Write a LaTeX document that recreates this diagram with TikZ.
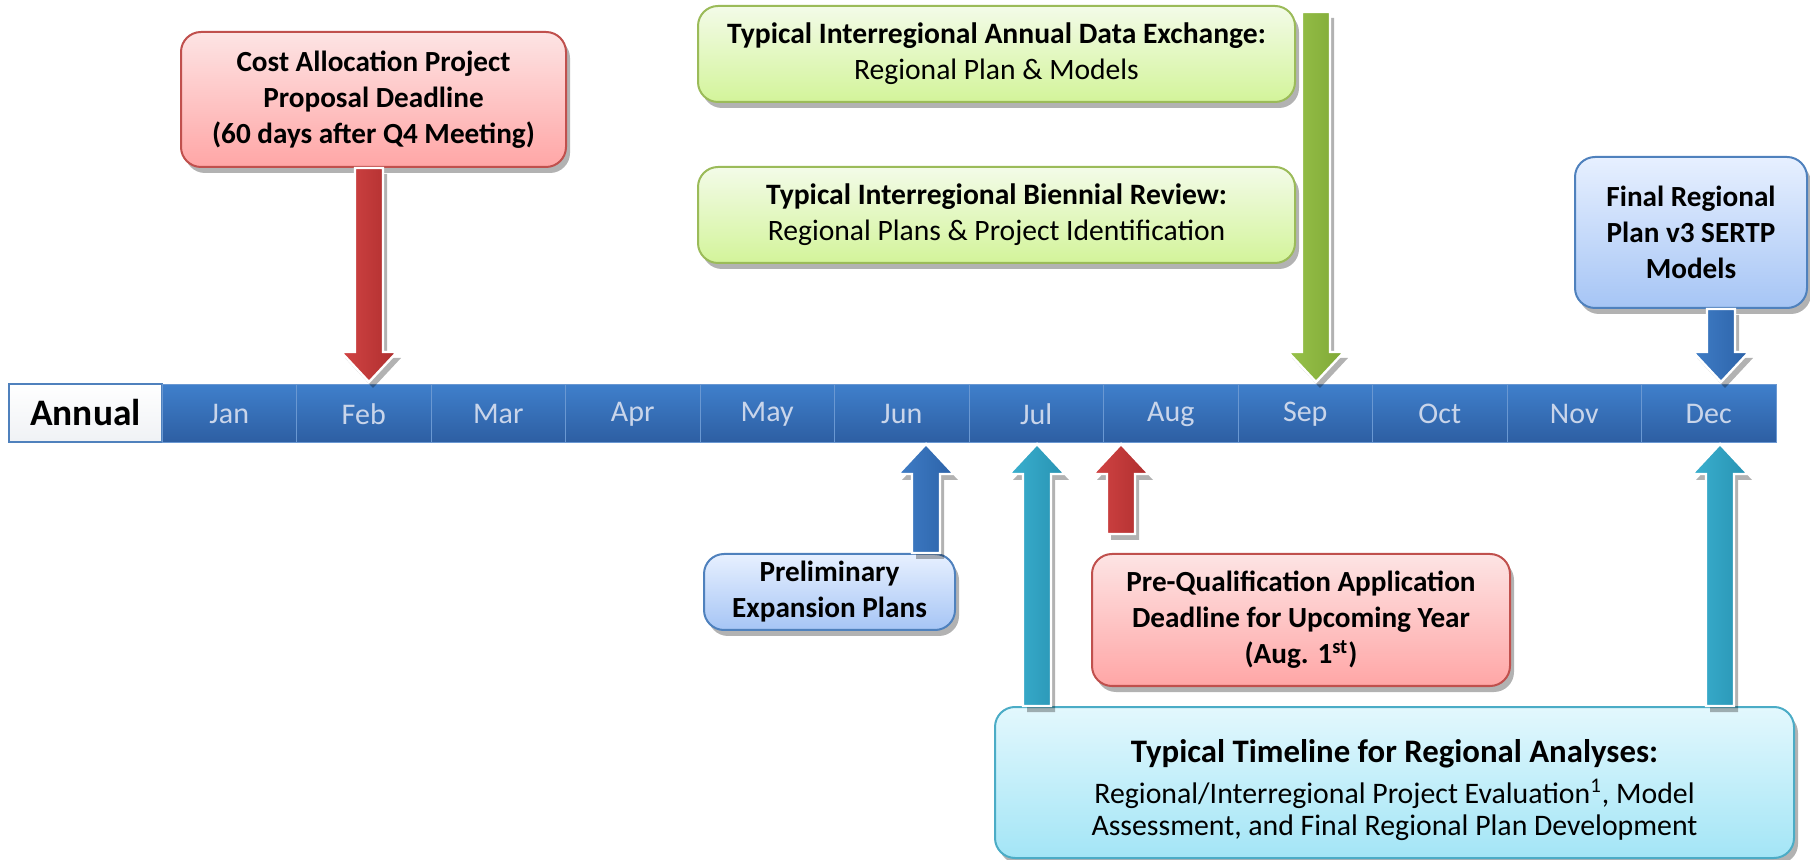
\documentclass[tikz,border=0pt]{standalone}
\usepackage{fontspec}
\setmainfont{Carlito}
\usetikzlibrary{shadows,calc}
\definecolor{barT}{HTML}{3F7FCB}
\definecolor{barB}{HTML}{2D5EA2}
\definecolor{barSep}{HTML}{6A98D2}
\definecolor{monthTxt}{HTML}{C9D5EA}
\definecolor{redT}{HTML}{FDE4E4}
\definecolor{redBt}{HTML}{FFA6A6}
\definecolor{redD}{HTML}{C0504D}
\definecolor{redAL}{HTML}{D24444}
\definecolor{redAR}{HTML}{AE2E2E}
\definecolor{grnT}{HTML}{F3FBE8}
\definecolor{grnBt}{HTML}{D3F49A}
\definecolor{grnD}{HTML}{9BBB59}
\definecolor{grnAL}{HTML}{98C24A}
\definecolor{grnAR}{HTML}{7FA836}
\definecolor{bluT}{HTML}{E7F0FF}
\definecolor{bluBt}{HTML}{A6C5F5}
\definecolor{bluD}{HTML}{4F81BD}
\definecolor{bluAL}{HTML}{3F7DC6}
\definecolor{bluAR}{HTML}{2C62A8}
\definecolor{tealT}{HTML}{E3F8FD}
\definecolor{tealBt}{HTML}{A3E5F6}
\definecolor{tealD}{HTML}{4BACC6}
\definecolor{tealAL}{HTML}{3AB0CF}
\definecolor{tealAR}{HTML}{2892B2}
\newcommand{\tlDown}[3]{%
  \path[#3] let \p1=(#1), \p2=(#2) in
    (\x2-7pt,\y1) -- (\x2-7pt,\y2+15pt) -- (\x2-14pt,\y2+15pt) -- (\x2,\y2)
    -- (\x2+14pt,\y2+15pt) -- (\x2+7pt,\y2+15pt) -- (\x2+7pt,\y1) -- cycle;}
\newcommand{\tlUp}[3]{%
  \path[#3] let \p1=(#1), \p2=(#2) in
    (\x2-7pt,\y1) -- (\x2-7pt,\y2-15pt) -- (\x2-14pt,\y2-15pt) -- (\x2,\y2)
    -- (\x2+14pt,\y2-15pt) -- (\x2+7pt,\y2-15pt) -- (\x2+7pt,\y1) -- cycle;}
\tikzset{
  shad/.style={drop shadow={shadow xshift=2pt,shadow yshift=-3pt,opacity=0.3,fill=black}},
  box/.style={rounded corners=10pt, line width=1pt, align=center, inner sep=0pt, shad,
    font=\fontsize{14.8}{18}\selectfont},
  bbox/.style={box, font=\fontsize{14.6}{18}\selectfont\bfseries},
  redbox/.style={draw=redD, top color=redT, bottom color=redBt},
  grnbox/.style={draw=grnD, top color=grnT, bottom color=grnBt},
  blubox/.style={draw=bluD, top color=bluT, bottom color=bluBt},
  tealbox/.style={draw=tealD, top color=tealT, bottom color=tealBt},
  month/.style={minimum width=67.25pt, minimum height=29pt, inner sep=0pt, draw=barSep,
    line width=0.5pt, top color=barT, bottom color=barB, text=monthTxt,
    font=\fontsize{15}{18}\selectfont},
  annual/.style={minimum width=76.5pt, minimum height=29pt, inner sep=0pt, draw=bluD,
    line width=0.8pt, top color=white, bottom color=black!4!bluT!80!gray!30,
    font=\fontsize{18.7}{22}\selectfont\bfseries},
  barrow/.style={draw=white, line width=1.2pt, shad},
  redarrow/.style={barrow, left color=redAL, right color=redAR},
  grnarrow/.style={barrow, left color=grnAL, right color=grnAR},
  bluarrow/.style={barrow, left color=bluAL, right color=bluAR},
  tealarrow/.style={barrow, left color=tealAL, right color=tealAR},
}
\begin{document}
\begin{tikzpicture}[x=0.5pt,y=-0.5pt]
\useasboundingbox (0,0) rectangle (1810,860);
% timeline
\node[annual] (annual) at (85.5,413) {Annual};
\foreach \m [count=\i] in {Jan,Feb,Mar,Apr,May,Jun,Jul,Aug,Sep,Oct,Nov,Dec}
  \node[month] (m\i) at ({162+134.5*(\i-0.5)},414) {\m};
% boxes
\node[bbox,redbox,minimum width=192.5pt,minimum height=67.5pt] (cost) at (373.5,99.5)
  {Cost Allocation Project\\Proposal Deadline\\(60 days after Q4 Meeting)};
\node[box,grnbox,minimum width=298.5pt,minimum height=48pt] (gx) at (996.5,54)
  {\textbf{Typical Interregional Annual Data Exchange:}\\Regional Plan \& Models};
\node[box,grnbox,minimum width=298.5pt,minimum height=48pt] (gb) at (996.5,215)
  {\textbf{Typical Interregional Biennial Review:}\\Regional Plans \& Project Identification};
\node[bbox,blubox,minimum width=116pt,minimum height=75.5pt] (final) at (1691,232.5)
  {Final Regional\\Plan v3 SERTP\\Models};
\node[bbox,blubox,minimum width=125.5pt,minimum height=38pt] (prelim) at (829.5,592)
  {Preliminary\\Expansion Plans};
\node[bbox,redbox,minimum width=209pt,minimum height=66pt] (prequal) at (1301,620)
  {Pre-Qualification Application\\Deadline for Upcoming Year\\(Aug. 1\textsuperscript{st})};
\node[box,tealbox,minimum width=399.5pt,minimum height=75.5pt,font=\fontsize{14.9}{16.2}\selectfont] (teal) at (1394.5,782.5)
  {\rule{0pt}{19pt}{\fontsize{16.4}{19}\selectfont\bfseries Typical Timeline for Regional Analyses:}\\[4.5pt]
   Regional/Interregional Project Evaluation\textsuperscript{1}, Model\\
   Assessment, and Final Regional Plan Development};
% arrow end points
\coordinate (tipFeb) at (369,382);
\coordinate (tipSep) at (1316,382);
\coordinate (topSep) at (1316,12);
\coordinate (tipDec) at (1721,382);
\coordinate (tipJun) at (926,444);
\coordinate (tipJul) at (1037,444);
\coordinate (tipAug) at (1121,444);
\coordinate (botAug) at (1121,534);
\coordinate (tipDecB) at (1720,444);
% arrows
\tlDown{cost.south}{tipFeb}{redarrow}
\tlDown{topSep}{tipSep}{grnarrow}
\tlDown{final.south}{tipDec}{bluarrow}
\tlUp{prelim.north}{tipJun}{bluarrow}
\tlUp{teal.north}{tipJul}{tealarrow}
\tlUp{botAug}{tipAug}{redarrow}
\tlUp{teal.north}{tipDecB}{tealarrow}
\end{tikzpicture}
\end{document}
